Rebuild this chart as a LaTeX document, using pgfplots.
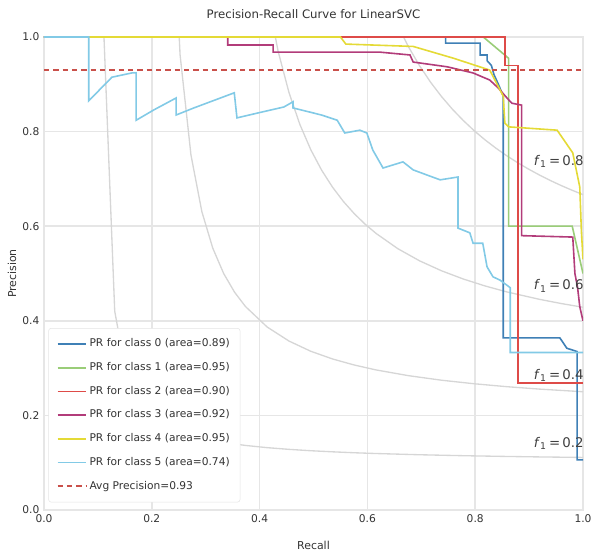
\documentclass[border=0pt]{standalone}
\usepackage{pgfplots}
\pgfplotsset{compat=1.18}
\usepackage{fontspec}
\setmainfont{DejaVu Sans}
\definecolor{c0}{HTML}{3F80B6}
\definecolor{c1}{HTML}{9ACD78}
\definecolor{c2}{HTML}{DE4B48}
\definecolor{c3}{HTML}{B23C7A}
\definecolor{c4}{HTML}{E4DA36}
\definecolor{c5}{HTML}{82CAE6}
\definecolor{avgc}{HTML}{C9504A}
\definecolor{isoc}{HTML}{D6D6D6}
\definecolor{gridc}{HTML}{E6E6E6}
\begin{document}
\begin{tikzpicture}
\begin{axis}[
  scale only axis, width=404.25pt, height=354.75pt,
  xmin=0, xmax=1, ymin=0, ymax=1,
  xtick={0,0.2,0.4,0.6,0.8,1}, ytick={0,0.2,0.4,0.6,0.8,1},
  /pgf/number format/assume math mode=true,
  /pgf/number format/fixed, /pgf/number format/fixed zerofill, /pgf/number format/precision=1,
  tick label style={font=\fontsize{8}{9}\selectfont, text=black!80},
  major tick length=0pt,
  grid=major, major grid style={gridc, line width=1.1pt},
  axis line style={draw=gridc, line width=1pt},
  every axis title shift=0pt,
  title={Precision-Recall Curve for LinearSVC},
  title style={font=\fontsize{8.8}{10}\selectfont, text=black!80, at={(axis description cs:0.5,1.0486)}, anchor=center},
  xlabel={Recall},
  xlabel style={font=\fontsize{8.2}{10}\selectfont, text=black!80, at={(axis description cs:0.5,-0.074)}, anchor=center},
  ylabel={Precision},
  ylabel style={font=\fontsize{8.2}{10}\selectfont, text=black!80, at={(axis description cs:-0.0594,0.5)}, anchor=center},
  legend cell align=left,
  legend image code/.code={\draw[#1] (0cm,0cm) -- (0.75cm,0cm);},
  legend style={at={(axis description cs:0.008,0.016)}, anchor=south west, font=\fontsize{8}{9}\selectfont, text=black!80,
    draw=gray!20, fill=white, rounded corners=2pt, inner sep=6pt, row sep=6.2pt,
    nodes={text height=6pt, text depth=2pt, inner sep=1.8pt}},
]
% iso-F1 curves
\addplot[isoc, line width=1pt, forget plot] coordinates {(0.11102,1.0074) (0.13122,0.4203) (0.15143,0.2944) (0.17163,0.2396) (0.19184,0.2089) (0.21204,0.1893) (0.23224,0.1756) (0.25245,0.1656) (0.27265,0.1579) (0.29286,0.1518) (0.31306,0.1469) (0.33327,0.1429) (0.37367,0.1365) (0.41408,0.1318) (0.45449,0.1282) (0.4949,0.1253) (0.53531,0.1230) (0.57571,0.1210) (0.61612,0.1194) (0.69694,0.1168) (0.77776,0.1148) (0.85857,0.1132) (0.91918,0.1122) (1.0,0.1111)};
\addplot[isoc, line width=1pt, forget plot] coordinates {(0.21204,3.522) (0.23224,1.4407) (0.25245,0.9626) (0.27265,0.7506) (0.29286,0.6308) (0.31306,0.5538) (0.33327,0.5001) (0.35347,0.4606) (0.37367,0.4303) (0.41408,0.3868) (0.45449,0.3572) (0.4949,0.3356) (0.53531,0.3193) (0.57571,0.3065) (0.61612,0.2961) (0.67673,0.2839) (0.73735,0.2744) (0.79796,0.2669) (0.85857,0.2607) (0.91918,0.2556) (1.0,0.25)};
\addplot[isoc, line width=1pt, forget plot] coordinates {(0.39388,1.2587) (0.41408,1.0889) (0.43429,0.9702) (0.45449,0.8826) (0.47469,0.8152) (0.4949,0.7618) (0.5151,0.7184) (0.53531,0.6825) (0.55551,0.6522) (0.57571,0.6264) (0.59592,0.6041) (0.61612,0.5847) (0.65653,0.5524) (0.69694,0.5267) (0.73735,0.5058) (0.77776,0.4884) (0.81816,0.4737) (0.85857,0.4611) (0.91918,0.4454) (0.95959,0.4365) (1.0,0.4286)};
\addplot[isoc, line width=1pt, forget plot] coordinates {(0.59592,1.2167) (0.61612,1.1403) (0.63633,1.0770) (0.65653,1.0237) (0.67673,0.9782) (0.69694,0.9388) (0.71714,0.9045) (0.73735,0.8743) (0.75755,0.8475) (0.77776,0.8236) (0.79796,0.8020) (0.81816,0.7826) (0.83837,0.7650) (0.85857,0.7489) (0.87878,0.7342) (0.89898,0.7207) (0.91918,0.7082) (0.93939,0.6966) (0.95959,0.6859) (0.9798,0.6760) (1.0,0.6667)};
% class curves
\addplot[c0, line width=1.2pt] coordinates {(0,1) (0.745,1) (0.745,0.987) (0.809,0.987) (0.809,0.962) (0.822,0.962) (0.822,0.95) (0.83,0.94) (0.835,0.92) (0.843,0.90) (0.852,0.875) (0.852,0.364) (0.957,0.364) (0.97,0.342) (0.989,0.335) (0.989,0.106) (1.0,0.106)};
\addlegendentry{PR for class 0 (area=0.89)}
\addplot[c1, line width=1.2pt] coordinates {(0,1) (0.815,1) (0.862,0.955) (0.862,0.60) (0.98,0.60) (0.99,0.55) (1.0,0.50)};
\addlegendentry{PR for class 1 (area=0.95)}
\addplot[c2, line width=1.2pt] coordinates {(0,1) (0.855,1) (0.855,0.94) (0.879,0.94) (0.879,0.268) (1.0,0.268)};
\addlegendentry{PR for class 2 (area=0.90)}
\addplot[c3, line width=1.2pt] coordinates {(0,1) (0.341,1) (0.341,0.983) (0.425,0.983) (0.425,0.968) (0.623,0.968) (0.679,0.962) (0.685,0.947) (0.748,0.937) (0.796,0.924) (0.827,0.909) (0.843,0.892) (0.859,0.871) (0.868,0.86) (0.886,0.856) (0.886,0.58) (0.981,0.577) (0.985,0.50) (0.99,0.47) (0.994,0.43) (1.0,0.40)};
\addlegendentry{PR for class 3 (area=0.92)}
\addplot[c4, line width=1.2pt] coordinates {(0,1) (0.55,1) (0.56,0.985) (0.685,0.98) (0.76,0.955) (0.827,0.93) (0.852,0.875) (0.855,0.818) (0.862,0.81) (0.952,0.803) (0.981,0.755) (0.994,0.683) (0.997,0.59) (1.0,0.53)};
\addlegendentry{PR for class 4 (area=0.95)}
\addplot[c5, line width=1.2pt] coordinates {(0,1) (0.083,1) (0.083,0.865) (0.126,0.915) (0.163,0.924) (0.171,0.924) (0.171,0.824) (0.204,0.846) (0.245,0.871) (0.245,0.835) (0.278,0.85) (0.353,0.882) (0.358,0.829) (0.403,0.841) (0.445,0.852) (0.462,0.863) (0.462,0.85) (0.494,0.841) (0.515,0.835) (0.544,0.824) (0.558,0.797) (0.586,0.803) (0.599,0.797) (0.61,0.761) (0.629,0.723) (0.666,0.736) (0.685,0.719) (0.711,0.708) (0.735,0.698) (0.768,0.704) (0.768,0.596) (0.79,0.586) (0.796,0.564) (0.814,0.564) (0.822,0.514) (0.833,0.493) (0.846,0.486) (0.865,0.47) (0.865,0.333) (1.0,0.333)};
\addlegendentry{PR for class 5 (area=0.74)}
\addplot[avgc, line width=1.6pt, dash pattern=on 4pt off 3pt] coordinates {(0,0.93) (1,0.93)};
\addlegendentry{Avg Precision=0.93}
% iso-F1 annotations
\node[anchor=base west, font=\fontsize{10}{12}\selectfont, text=black!75] at (axis cs:0.9,0.728) {\textit{f}\textsubscript{1}\,=\,0.8};
\node[anchor=base west, font=\fontsize{10}{12}\selectfont, text=black!75] at (axis cs:0.9,0.4654) {\textit{f}\textsubscript{1}\,=\,0.6};
\node[anchor=base west, font=\fontsize{10}{12}\selectfont, text=black!75] at (axis cs:0.9,0.2756) {\textit{f}\textsubscript{1}\,=\,0.4};
\node[anchor=base west, font=\fontsize{10}{12}\selectfont, text=black!75] at (axis cs:0.9,0.1322) {\textit{f}\textsubscript{1}\,=\,0.2};
\end{axis}
\pgfresetboundingbox
\path[use as bounding box] ([shift={(-33pt,-32.25pt)}]current axis.south west) rectangle ([shift={(7.5pt,27.75pt)}]current axis.north east);
\end{tikzpicture}
\end{document}
